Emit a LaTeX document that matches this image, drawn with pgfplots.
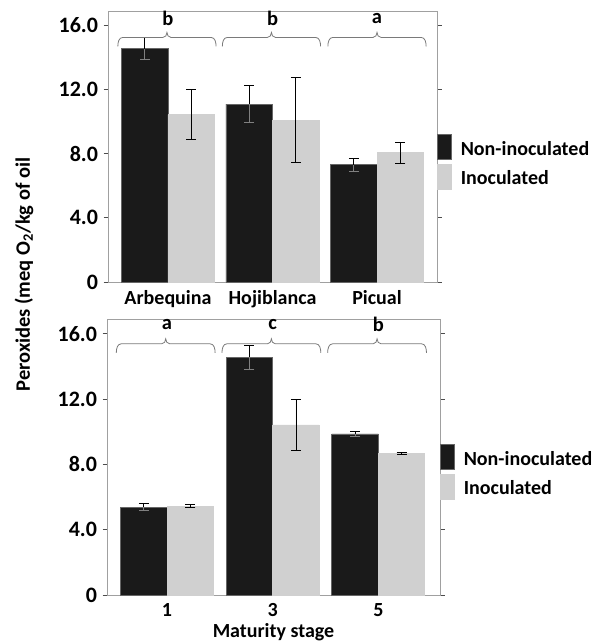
\documentclass[border=0pt]{standalone}
\usepackage{fontspec}
\setmainfont{Carlito}
\usepackage{pgfplots}
\pgfplotsset{compat=1.18}
\definecolor{darkbar}{HTML}{1A1A1A}
\definecolor{lightbar}{HTML}{D0D0D0}
\definecolor{framegray}{HTML}{A0A0A0}
\definecolor{bracegray}{HTML}{7A7A7A}

\tikzset{
  lett/.style={font=\fontsize{20.5}{20}\selectfont\bfseries},
}
% curly group bracket: #1 left x, #2 right x, #3 y of the ends
\newcommand{\grpbrace}[3]{%
  \draw[bracegray, line width=0.8pt]
    (axis cs:#1,#3) to[out=90,in=180] ([xshift=5pt,yshift=9pt]axis cs:#1,#3)
    -- ([xshift=-4pt,yshift=9pt]axis cs:{(#1+#2)/2},#3)
    to[out=0,in=-90] ([yshift=14pt]axis cs:{(#1+#2)/2},#3)
    to[out=-90,in=180] ([xshift=4pt,yshift=9pt]axis cs:{(#1+#2)/2},#3)
    -- ([xshift=-5pt,yshift=9pt]axis cs:#2,#3)
    to[out=0,in=90] (axis cs:#2,#3);}

\pgfplotsset{
  perox/.style={
    scale only axis, anchor=south west, ybar, clip=false,
    ymin=0, ymax=16.9,
    ytick={0,4,8,12,16},
    yticklabels={0,4.0,8.0,12.0,16.0},
    xtick={0,1,2},
    axis line style={framegray, line width=0.8pt},
    tick align=outside, major tick length=4.5pt,
    y tick style={black!70, line width=0.8pt},
    x tick style={draw=none},
    yticklabel style={font=\fontsize{22}{22}\selectfont\bfseries, xshift=-2pt},
    xticklabel style={font=\fontsize{20}{20}\selectfont\bfseries},
    legend image code/.code={\fill[##1] (0pt,-10.5pt) rectangle (14pt,14.5pt);},
    legend cell align=left,
    legend style={draw=none, fill=none, inner sep=0pt, outer sep=0pt,
      row sep=4pt, column sep=7pt,
      font=\fontsize{20}{20}\selectfont\bfseries},
  },
  nonbar/.style={fill=darkbar, draw=black!60, line width=0.8pt, bar width=#1, bar shift=-#1/2,
    error bars/.cd, y dir=plus, y explicit,
    error bar style={draw=black, line width=0.8pt},
    error mark options={rotate=90, mark size=5pt, draw=black, line width=0.8pt}},
  nonlow/.style={draw=none, fill=none, bar width=#1, bar shift=-#1/2, forget plot,
    error bars/.cd, y dir=minus, y explicit,
    error bar style={draw=gray, line width=0.8pt},
    error mark options={rotate=90, mark size=5pt, draw=gray, line width=0.8pt}},
  inobar/.style={fill=lightbar, draw=lightbar, line width=0.8pt, bar width=#1, bar shift=#1/2,
    error bars/.cd, y dir=both, y explicit,
    error bar style={draw=black, line width=0.8pt},
    error mark options={rotate=90, mark size=5pt, draw=black, line width=0.8pt}},
}

\begin{document}
\begin{tikzpicture}
\useasboundingbox (0,0) rectangle (599pt,-644pt);

% top panel: cultivars
\begin{axis}[perox, at={(108pt,-282pt)}, width=329pt, height=271pt,
    xmin=-0.574, xmax=2.574,
    xticklabels={Arbequina,Hojiblanca,Picual},
    legend style={at={(1,0.5465)}, anchor=north west}]
\addplot[nonbar=0.445] coordinates {(0,14.55) +- (0,0.68) (1,11.10) +- (0,1.17) (2,7.32) +- (0,0.40)};
\addlegendentry{Non-inoculated}
\addplot[inobar=0.445] coordinates {(0,10.43) +- (0,1.55) (1,10.10) +- (0,2.67) (2,8.07) +- (0,0.65)};
\addlegendentry{Inoculated}
\addplot[nonlow=0.445] coordinates {(0,14.55) +- (0,0.68) (1,11.10) +- (0,1.17) (2,7.32) +- (0,0.40)};
\grpbrace{-0.48}{0.46}{14.69}
\grpbrace{0.52}{1.46}{14.69}
\grpbrace{1.53}{2.47}{14.69}
\node[lett] at (axis cs:0,16.45) {b};
\node[lett] at (axis cs:1,16.45) {b};
\node[lett] at (axis cs:2,16.45) {a};
\end{axis}

% bottom panel: maturity stage
\begin{axis}[perox, at={(107pt,-595pt)}, width=333pt, height=276pt,
    xmin=-0.568, xmax=2.583,
    xticklabels={1,3,5},
    xlabel={Maturity stage},
    xlabel style={font=\fontsize{20}{20}\selectfont\bfseries},
    legend style={at={(1,0.5475)}, anchor=north west}]
\addplot[nonbar=0.44] coordinates {(0,5.38) +- (0,0.22) (1,14.56) +- (0,0.73) (2,9.86) +- (0,0.15)};
\addlegendentry{Non-inoculated}
\addplot[inobar=0.44] coordinates {(0,5.44) +- (0,0.10) (1,10.41) +- (0,1.56) (2,8.69) +- (0,0.06)};
\addlegendentry{Inoculated}
\addplot[nonlow=0.44] coordinates {(0,5.38) +- (0,0.22) (1,14.56) +- (0,0.73) (2,9.86) +- (0,0.15)};
\grpbrace{-0.48}{0.455}{14.83}
\grpbrace{0.52}{1.455}{14.83}
\grpbrace{1.52}{2.455}{14.83}
\node[lett] at (axis cs:0,16.55) {a};
\node[lett] at (axis cs:1,16.55) {c};
\node[lett] at (axis cs:2,16.55) {b};
\end{axis}

\node[rotate=90, font=\fontsize{20.5}{20}\selectfont\bfseries] at (24pt,-274.5pt)
  {Peroxides (meq O\textsubscript{2}/kg of oil};
\end{tikzpicture}
\end{document}
